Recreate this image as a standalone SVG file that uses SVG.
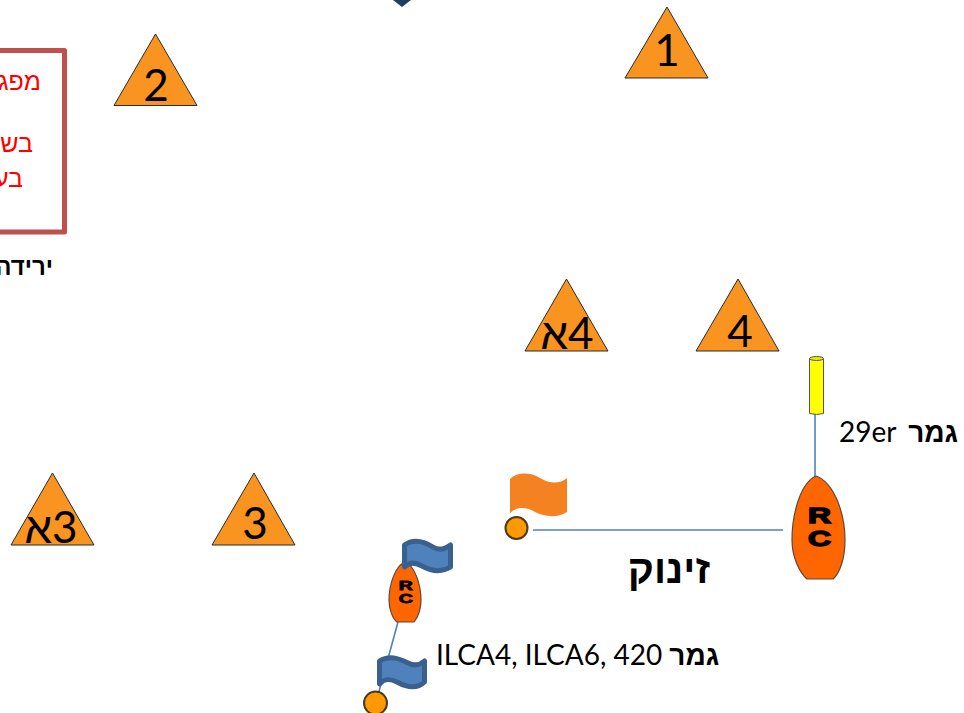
<svg xmlns="http://www.w3.org/2000/svg" width="964" height="713" viewBox="0 0 964 713">
<style>
.mark{fill:#f99420;stroke:#2b2b2b;stroke-width:1}
.num{font-family:"Lato","Liberation Sans",sans-serif;font-size:44px;fill:#000;text-anchor:middle}
.lab{font-family:"Lato","Liberation Sans",sans-serif;fill:#000}
.he{font-family:"Liberation Sans",sans-serif;font-weight:bold;fill:#000}
.red{font-family:"Liberation Sans",sans-serif;font-size:25px;fill:#f00;direction:rtl}
.conn{stroke:#4f81bd;stroke-width:1.6;fill:none}
.boat{fill:#ff6600;stroke:#5a4a3a;stroke-width:1.2}
.rc{font-family:"Liberation Sans",sans-serif;font-weight:bold;fill:#000;stroke:#000;text-anchor:middle}
.pin{fill:#ff9900;stroke:#4a3a20;stroke-width:2}
.bf{fill:#4f81bd;stroke:#3a6090;stroke-width:5;stroke-linejoin:round}
</style>
<g id="connectors">
<path class="conn" d="M533 530H783"/>
<path class="conn" d="M815 413V477"/>
<path class="conn" d="M398 622L378 695"/>
</g>
<g id="top-mark"><path d="M393 0H411L402 7Z" fill="#1f3f60"/></g>
<g id="note"><rect x="-20" y="50.500" width="84.500" height="181.500" fill="#fff" stroke="#c0504d" stroke-width="5" stroke-linejoin="round"/>
<text class="red" x="41" y="90">מפג</text><text class="red" x="33" y="152">בש</text><text class="red" x="23" y="187">בע</text></g>
<g id="descent-label"><text class="he" x="53" y="275" font-size="24" direction="rtl">ירידה</text></g>
<g id="mark-2"><path class="mark" d="M155.500 34L197 105.500H114Z"/><text class="num" x="156" y="101">2</text></g>
<g id="mark-1"><path class="mark" d="M667 7L708 78H625Z"/><text class="num" x="667" y="66">1</text></g>
<g id="mark-4a"><path class="mark" d="M566.500 279L608 351H525Z"/><text class="num" x="567" y="349" direction="rtl">4א</text></g>
<g id="mark-4"><path class="mark" d="M738 279L779 351H696Z"/><text class="num" x="740" y="347">4</text></g>
<g id="mark-3a"><path class="mark" d="M52.500 473L94 545H11Z"/><text class="num" x="51" y="543" direction="rtl">3א</text></g>
<g id="mark-3"><path class="mark" d="M254 473L295 545H212Z"/><text class="num" x="255" y="539">3</text></g>
<g id="yellow-buoy"><path d="M809.500 359V413.500Q816.500 415.500 823.500 413.500V359Z" fill="#ffff00" stroke="#555" stroke-width="1"/><ellipse cx="816.500" cy="358.500" rx="7" ry="2" fill="#e8e800" stroke="#555"/></g>
<g id="finish-29er"><text class="lab" x="958" y="442" text-anchor="end" font-size="28" direction="ltr" word-spacing="5">29er <tspan class="he">גמר</tspan></text></g>
<g id="rc-large"><path class="boat" d="M816 476C800 483 792 515 792 540C792 558 800 573 807 579H833C840 573 845 558 845 540C845 515 835 483 816 476Z"/>
<text class="rc" x="819.500" y="523" font-size="22" stroke-width="1.500" textLength="23" lengthAdjust="spacingAndGlyphs">R</text><text class="rc" x="819.500" y="546" font-size="22" stroke-width="1.500" textLength="23" lengthAdjust="spacingAndGlyphs">C</text></g>
<g id="start-pin"><circle class="pin" cx="516.500" cy="528" r="11"/></g>
<g id="orange-flag"><path d="M510 479C517 472 530 472 540 478C550 484 560 484 567 478V512C558 518 545 517 535 512C527 507 517 506 510 513Z" fill="#f58220"/></g>
<g id="start-label"><text class="he" x="710" y="583" text-anchor="end" font-size="40" direction="ltr">זינוק</text></g>
<g id="rc-small"><path class="boat" d="M405 562C395 566 389 585 389 600C389 610 393 619 397 622H414C418 617 421 610 421 600C421 585 415 566 405 562Z"/>
<text class="rc" x="405.700" y="590" font-size="12" stroke-width="0.800" textLength="14" lengthAdjust="spacingAndGlyphs">R</text><text class="rc" x="405.700" y="603" font-size="12" stroke-width="0.800" textLength="14" lengthAdjust="spacingAndGlyphs">C</text></g>
<g id="blue-flag-1"><path class="bf" d="M404.500 545C414 538 425 542 433 547C439 551 445 549 450.500 545V567C441 573 431 571 422 566C415 562 409 562 404.500 567Z"/></g>
<g id="blue-flag-2"><path class="bf" d="M379.500 661C389 655 398 658 408 663C414 666 420 665 424.500 661V682C416 690 406 687 397 682C389 678 384 679 379.500 684Z"/></g>
<g id="finish-pin"><circle class="pin" cx="375.500" cy="703" r="11.500"/></g>
<g id="finish-ilca"><text class="lab" x="436" y="665" font-size="28" direction="ltr">ILCA4, ILCA6, 420 <tspan class="he">גמר</tspan></text></g>
</svg>
